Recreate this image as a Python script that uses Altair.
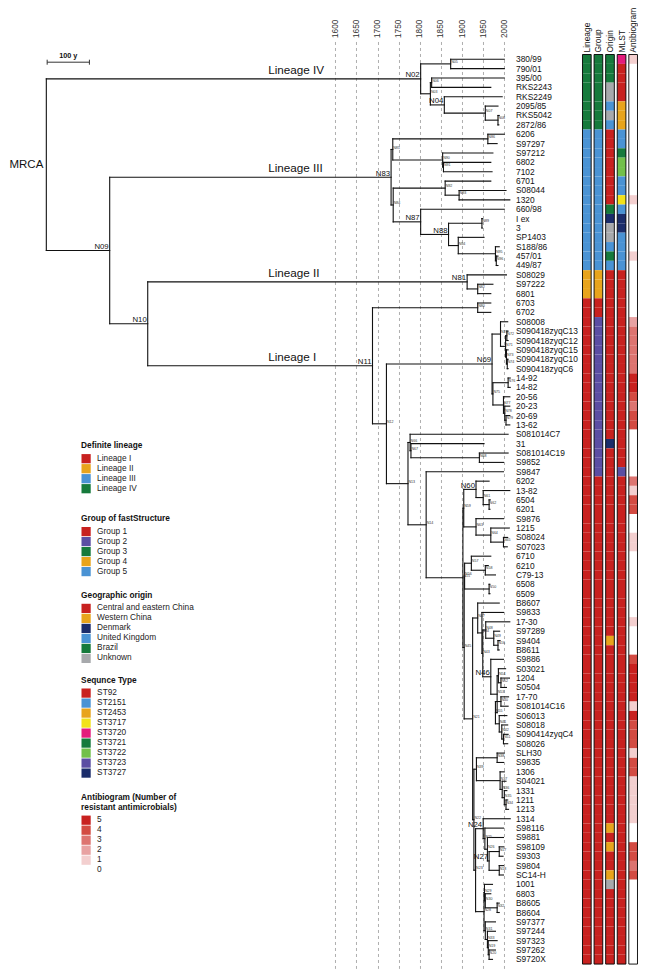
import altair as alt
import pandas as pd

FONT = "Liberation Sans"

# ---------------- tips (top to bottom) ----------------
TIPS = ["380/99", "790/01", "395/00", "RKS2243", "RKS2249", "2095/85", "RKS5042", "2872/86",
        "6206", "S97297", "S97212", "6802", "7102", "6701", "S08044", "1320", "660/98", "I ex", "3",
        "SP1403", "S188/86", "457/01", "449/87",
        "S08029", "S97222", "6801",
        "6703", "6702", "S08008", "S090418zyqC13", "S090418zyqC12", "S090418zyqC15", "S090418zyqC10",
        "S090418zyqC6", "14-92", "14-82", "20-56", "20-23", "20-69", "13-62", "S081014C7", "31",
        "S081014C19", "S9852", "S9847", "6202", "13-82", "6504", "6201", "S9876", "1215", "S08024",
        "S07023", "6710", "6210", "C79-13", "6508", "6509", "B8607", "S9833", "17-30", "S97289",
        "S9404", "B8611", "S9886", "S03021", "1204", "S0504", "17-70", "S081014C16", "S06013",
        "S08018", "S090414zyqC4", "S08026", "SLH30", "S9835", "1306", "S04021", "1331", "1211",
        "1213", "1314", "S98116", "S9881", "S98109", "S9303", "S9804", "SC14-H", "1001", "6803",
        "B8605", "B8604", "S97377", "S97244", "S97323", "S97262", "S9720X"]

TIP_PARENT = ["N05", "N05", "N06", "N06", "N04", "N07", "N08", "N08",
              "N86", "N86", "N90", "N91", "N91", "N92", "N93", "N93", "N87", "N89", "N89",
              "N94", "N95", "N96", "N96",
              "N81", "N82", "N82",
              "N80", "N80", "N70", "N72", "N72", "N73", "N74",
              "N74", "N76", "N76", "N77", "N78", "N79", "N79", "N66", "N67",
              "N68", "N68", "N14", "N60", "N61", "N62", "N62", "N63", "N64", "N65",
              "N65", "N57", "N58", "N58", "N50", "N50", "N47", "N44", "N48", "N49",
              "N16", "N16", "N46", "N54", "N52", "N52", "N40", "N40", "N41",
              "N42", "N51", "N51", "N38", "N38", "N37", "N36", "N35", "N34",
              "N34", "N24", "N25", "N26", "N17", "N17", "N18", "N18", "N29", "N30",
              "N32", "N32", "N31", "N33", "N19", "N20", "N20"]

TIP_YEAR = [2000, 2000, 2000, 1968, 1995, 1985, 1988, 1987,
            2000, 1983, 1973, 1968, 1971, 1968, 2004, 2013, 2000, 1948, 1948,
            1952, 1988, 1985, 1985,
            2005, 1973, 1968,
            1968, 1968, 2008, 2009, 2009, 2009, 2009,
            2009, 2014, 2014, 2013, 2013, 2013, 2013, 2009, 1952,
            2009, 1998, 1998, 1964, 2013, 1967, 1966, 1998, 2012, 2008,
            2007, 1968, 1962, 1979, 1966, 1966, 1988, 1998, 2013, 1989,
            1990, 1988, 1998, 2003, 2012, 2005, 2010, 2009, 2006,
            2008, 2009, 2008, 2000, 1998, 2000, 2004, 2006, 2008,
            2010, 2014, 1998, 1998, 1998, 1997, 1998, 1998, 1972, 1968,
            1988, 1988, 1979, 1979, 1983, 1979, 1972]

# ---------------- internal nodes ----------------
NODES = ["MRCA", "N02", "N03", "N05", "N06", "N04", "N07", "N08",
         "N09", "N83", "N85", "N86", "N90", "N91", "N84", "N92", "N93", "N87", "N88", "N89",
         "N94", "N95", "N96",
         "N10", "N81", "N82",
         "N11", "N80", "N12", "N69", "N70", "N71", "N72", "N73", "N74", "N75", "N76", "N77",
         "N78", "N79", "N13", "N66", "N67", "N68", "N14", "N15", "N59", "N60", "N61", "N62",
         "N63", "N64", "N65", "N45", "N56", "N57", "N58", "N50", "N21", "N47", "N44", "N43",
         "N48", "N49", "N16", "N46", "N53", "N54", "N52", "N55", "N40", "N41", "N42", "N51",
         "N22", "N39", "N38", "N37", "N36", "N35", "N34", "N23", "N24", "N25", "N26", "N27",
         "N17", "N18", "N28", "N29", "N30", "N32", "N31", "N33", "N19", "N20"]

NODE_PARENT = ["", "MRCA", "N02", "N02", "N03", "N03", "N04", "N07",
               "MRCA", "N09", "N83", "N85", "N85", "N90", "N83", "N84", "N92", "N84", "N87", "N88",
               "N88", "N94", "N95",
               "N09", "N10", "N81",
               "N10", "N11", "N11", "N12", "N69", "N70", "N71", "N71", "N73", "N69", "N75", "N75",
               "N77", "N78", "N12", "N13", "N66", "N67", "N13", "N14", "N15", "N59", "N60", "N61",
               "N59", "N63", "N64", "N15", "N45", "N56", "N57", "N56", "N45", "N21", "N47", "N44",
               "N43", "N48", "N49", "N43", "N46", "N53", "N54", "N53", "N55", "N55", "N41", "N42",
               "N21", "N22", "N39", "N39", "N37", "N36", "N35", "N22", "N23", "N24", "N25", "N26",
               "N27", "N27", "N23", "N28", "N29", "N30", "N28", "N31", "N33", "N19"]

NODE_YEAR = [916, 1802, 1825, 1873, 1828, 1858, 1955, 1985,
             1066, 1732, 1736, 1961, 1854, 1856, 1737, 1860, 1893, 1802, 1868, 1947,
             1891, 1979, 1981,
             1156, 1912, 1937,
             1688, 1937, 1721, 1971, 1991, 2003, 2006, 2005, 2007, 1973, 2009, 1998,
             2001, 2004, 1772, 1777, 1779, 1941, 1815, 1902, 1904, 1933, 1950, 1964,
             1933, 1968, 1998, 1905, 1906, 1922, 1955, 1964, 1925, 1937, 1947, 1949,
             1956, 1975, 1985, 1968, 1983, 1986, 1992, 1979, 1992, 1988, 1994, 1998,
             1928, 1934, 1983, 1990, 1995, 2000, 2004, 1932, 1950, 1954, 1960, 1964,
             1988, 1988, 1952, 1953, 1955, 1983, 1955, 1960, 1962, 1964]

BIG_NODE_LABELS = ["N02", "N04", "N09", "N10", "N11", "N24", "N27", "N46", "N60",
                   "N69", "N81", "N83", "N87", "N88"]

LINEAGE_LABELS = ["Lineage IV", "Lineage III", "Lineage II", "Lineage I"]
LINEAGE_LABEL_NODES = ["N02", "N83", "N81", "N11"]
LINEAGE_LABEL_YEAR = 1441

YEAR_TICKS = [1600, 1650, 1700, 1750, 1800, 1850, 1900, 1950, 2000]
SCALEBAR_START = 918
SCALEBAR_LEN = 100
SCALEBAR_TEXT = "100 y"

# ---------------- annotation columns ----------------
COLUMN_NAMES = ["Lineage", "Group", "Origin", "MLST", "Antibiogram"]

LINEAGE_CATS = ["Lineage I", "Lineage II", "Lineage III", "Lineage IV"]
GROUP_CATS = ["Group 1", "Group 2", "Group 3", "Group 4", "Group 5"]
ORIGIN_CATS = ["Central and eastern China", "Western China", "Denmark", "United Kingdom",
               "Brazil", "Unknown"]
ST_CATS = ["ST92", "ST2151", "ST2453", "ST3717", "ST3720", "ST3721", "ST3722", "ST3723", "ST3727"]
AB_CATS = ["5", "4", "3", "2", "1", "0"]

RED, ORANGE, BLUE, GREEN = "#c8211f", "#e8a41c", "#4a93d4", "#167a3c"
PURPLE, NAVY, GREY = "#5b4ea3", "#1b2d6b", "#a7a9ac"
YELLOW, MAGENTA, LGREEN = "#f2e21a", "#e41c7c", "#72c04a"

LINEAGE_COLORS = [RED, ORANGE, BLUE, GREEN]
GROUP_COLORS = [RED, PURPLE, GREEN, ORANGE, BLUE]
ORIGIN_COLORS = [RED, ORANGE, NAVY, BLUE, GREEN, GREY]
ST_COLORS = [RED, BLUE, ORANGE, YELLOW, MAGENTA, GREEN, LGREEN, PURPLE, NAVY]
AB_COLORS = ["#c8211f", "#d34b42", "#dd7470", "#e8a2a2", "#f3cfcf", "#ffffff"]

# one character per tip, top to bottom
LINEAGE_CODE = ("44444444 3333333333 33333 222 11 1111111111 1111111 "
                "1111111111 1111111111 1111111111 1111111111 1111111111 11")
GROUP_CODE = ("33333333 5555555555 55555 444 11 2222222222 2222222 "
              "1111111111 1111111111 1111111111 1111111111 1111111111 11")
ORIGIN_CODE = ("BBB XX U X U CCCCCCCC B D XX U B U CCCCCCCCCC CCCCCCCC D "
               "CCCCCCCCCC CCCCCCCCCC W CCCCCCCCCC CCCCCCCCC W C W CC W X CCCCCCCC")
ST_CODE = ("4 0000 222 11 5 66 11 3 1 88 1111 0000000000 0000000000 0 7 "
           "0000000000 0000000000 0000000000 0000000000 0000000000 00")
AB_CODE = ("1 00000000000000 1 00000 1 000000 2 33333 55 4 3 44 00000 3 1 44 00 11 "
           "0000000 1 000 4 5555 1 5 444 1 44 11111 00 44 3 4 000000000")

ORIGIN_KEY = {"C": ORIGIN_CATS[0], "W": ORIGIN_CATS[1], "D": ORIGIN_CATS[2],
              "U": ORIGIN_CATS[3], "B": ORIGIN_CATS[4], "X": ORIGIN_CATS[5]}

# ---------------- build tables ----------------
lin_codes = LINEAGE_CODE.replace(" ", "")
grp_codes = GROUP_CODE.replace(" ", "")
org_codes = ORIGIN_CODE.replace(" ", "")
st_codes = ST_CODE.replace(" ", "")
ab_codes = AB_CODE.replace(" ", "")
n_tips = len(TIPS)
assert all(len(s) == n_tips for s in [lin_codes, grp_codes, org_codes, st_codes, ab_codes,
                                      TIP_PARENT, TIP_YEAR])

parent, year = {}, {}
for n, p, y in zip(NODES, NODE_PARENT, NODE_YEAR):
    parent[n], year[n] = p, y
for n, p, y in zip(TIPS, TIP_PARENT, TIP_YEAR):
    parent[n], year[n] = p, y
children = {}
for n, p in parent.items():
    if p:
        children.setdefault(p, []).append(n)

row = {t: i for i, t in enumerate(TIPS)}


def get_row(n):
    if n not in row:
        rs = [get_row(c) for c in children[n]]
        row[n] = (min(rs) + max(rs)) / 2
    return row[n]


get_row("MRCA")

segs = []
for n, p in parent.items():
    if p:
        segs.append({"x": year[p], "x2": year[n], "y": row[n], "y2": row[n]})
for n, ch in children.items():
    rs = [row[c] for c in ch]
    segs.append({"x": year[n], "x2": year[n], "y": min(rs), "y2": max(rs)})
seg_df = pd.DataFrame(segs)

big_df = pd.DataFrame({"name": BIG_NODE_LABELS,
                       "x": [year[n] for n in BIG_NODE_LABELS],
                       "y": [row[n] for n in BIG_NODE_LABELS]})
small_names = [n for n in NODES if n not in BIG_NODE_LABELS and n != "MRCA"]
small_df = pd.DataFrame({"name": small_names,
                         "x": [year[n] for n in small_names],
                         "y": [row[n] for n in small_names]})
root_df = pd.DataFrame({"name": ["MRCA"], "x": [year["MRCA"]], "y": [row["MRCA"]]})
lin_df = pd.DataFrame({"name": LINEAGE_LABELS, "x": [LINEAGE_LABEL_YEAR] * 4,
                       "y": [row[n] for n in LINEAGE_LABEL_NODES]})
tips_df = pd.DataFrame({"name": TIPS, "y": list(range(n_tips))})

heat_rows = []
for i in range(n_tips):
    vals = [LINEAGE_CATS[int(lin_codes[i]) - 1], GROUP_CATS[int(grp_codes[i]) - 1],
            ORIGIN_KEY[org_codes[i]], ST_CATS[int(st_codes[i])], ab_codes[i]]
    for c, v in zip(COLUMN_NAMES, vals):
        heat_rows.append({"col": c, "value": v, "r0": i - 0.5, "r1": i + 0.5})
heat_df = pd.DataFrame(heat_rows)
border_df = pd.DataFrame({"col": COLUMN_NAMES, "r0": [-0.5] * 5, "r1": [n_tips - 0.5] * 5})

sb_df = pd.DataFrame({"x": [SCALEBAR_START], "x2": [SCALEBAR_START + SCALEBAR_LEN],
                      "xm": [SCALEBAR_START + SCALEBAR_LEN / 2], "t": [SCALEBAR_TEXT]})
sb_ends = pd.DataFrame({"x": [SCALEBAR_START, SCALEBAR_START + SCALEBAR_LEN]})

# ---------------- scales & axes ----------------
W, H = 630, 926.9
XS = alt.Scale(domain=[825.3, 2316.4], nice=False, zero=False)
YS = alt.Scale(domain=[-1.888, 96.96], nice=False, zero=False, reverse=True)
year_axis = alt.Axis(orient="top", values=YEAR_TICKS, format="d", grid=True, gridDash=[3, 3],
                     gridColor="#9a9a9a", gridWidth=0.8, domain=False, ticks=False,
                     labelAngle=270, labelAlign="left", labelBaseline="middle", labelPadding=4,
                     labelFontSize=8.3, labelFontWeight="normal", labelColor="#333",
                     labelFont=FONT, title=None)
HX = alt.Scale(domain=COLUMN_NAMES, range=[574.5, 629.5], paddingInner=0.25, paddingOuter=0)
heat_axis = alt.Axis(orient="top", domain=False, ticks=False, grid=False, labelAngle=270,
                     labelAlign="left", labelBaseline="middle", labelPadding=-10.5,
                     labelFontSize=8.4, labelFontWeight="normal", labelColor="#111",
                     labelFont=FONT, title=None)

XQ = alt.X("x:Q", scale=XS, axis=None)
YQ = alt.Y("y:Q", scale=YS, axis=None)
HXQ = alt.X("col:N", scale=HX, axis=heat_axis)

tree = alt.Chart(seg_df).mark_rule(color="#111", strokeWidth=1.1, strokeCap="square").encode(
    x=alt.X("x:Q", scale=XS, axis=year_axis), x2="x2:Q", y=YQ, y2="y2:Q")

tip_text = alt.Chart(tips_df).mark_text(align="left", baseline="middle", fontSize=8.4,
                                        font=FONT, color="#111").encode(
    x=alt.value(508), y=YQ, text="name:N")

big_text = alt.Chart(big_df).mark_text(align="right", baseline="alphabetic", dx=-1, dy=-1.5,
                                       fontSize=7.8, font=FONT, color="#111").encode(
    x=XQ, y=YQ, text="name:N")

small_text = alt.Chart(small_df).mark_text(align="left", baseline="alphabetic", dx=0.5, dy=-0.8,
                                           fontSize=3.6, font=FONT, color="#333").encode(
    x=XQ, y=YQ, text="name:N")

root_text = alt.Chart(root_df).mark_text(align="right", baseline="middle", dx=-3,
                                         fontSize=11.5, font=FONT, color="#111").encode(
    x=XQ, y=YQ, text="name:N")

lin_text = alt.Chart(lin_df).mark_text(align="left", baseline="alphabetic", dy=-5,
                                       fontSize=11.7, font=FONT, color="#111").encode(
    x=XQ, y=YQ, text="name:N")

sb_rule = alt.Chart(sb_df).mark_rule(color="#333", strokeWidth=1).encode(
    x=XQ, x2="x2:Q", y=alt.value(20.7))
sb_ticks = alt.Chart(sb_ends).mark_rule(color="#333", strokeWidth=1).encode(
    x=XQ, y=alt.value(18.2), y2=alt.value(23.2))
sb_text = alt.Chart(sb_df).mark_text(baseline="alphabetic", fontSize=7.3, fontWeight="bold",
                                     font=FONT, color="#111").encode(
    x=alt.X("xm:Q", scale=XS, axis=None), y=alt.value(16.8), text="t:N")


def legend(title, ly):
    return alt.Legend(title=title, orient="none", legendX=73.1, legendY=ly, direction="vertical",
                      symbolType="square", symbolSize=85, symbolStrokeWidth=0, symbolOpacity=1,
                      rowPadding=0, labelOffset=6, labelFontSize=8.3, labelFont=FONT,
                      labelColor="#222", titleFontSize=8.3, titleFont=FONT, titleFontWeight="bold",
                      titleColor="#111", titlePadding=4, titleLimit=400, labelLimit=400)


def heat_layer(colname, cats, colors, title, ly):
    return alt.Chart(heat_df).transform_filter(alt.datum.col == colname).mark_rect().encode(
        x=HXQ,
        y=alt.Y("r0:Q", scale=YS, axis=None), y2="r1:Q",
        color=alt.Color("value:N", scale=alt.Scale(domain=cats, range=colors),
                        legend=legend(title, ly)))


heat_layers = [
    heat_layer("Lineage", LINEAGE_CATS, LINEAGE_COLORS, "Definite lineage", 399.9),
    heat_layer("Group", GROUP_CATS, GROUP_COLORS, "Group of fastStructure", 472.8),
    heat_layer("Origin", ORIGIN_CATS, ORIGIN_COLORS, "Geographic origin", 549.6),
    heat_layer("MLST", ST_CATS, ST_COLORS, "Sequnce Type", 634.3),
    heat_layer("Antibiogram", AB_CATS, AB_COLORS,
               ["Antibiogram (Number of", "resistant antimicrobials)"], 751.1),
]
border = alt.Chart(border_df).mark_rect(filled=False, stroke="#000", strokeWidth=0.9).encode(
    x=HXQ,
    y=alt.Y("r0:Q", scale=YS, axis=None), y2="r1:Q")

heat = alt.layer(*heat_layers, border).resolve_scale(color="independent")

chart = alt.layer(tree, tip_text, big_text, small_text, root_text, lin_text,
                  sb_rule, sb_ticks, sb_text, heat).resolve_scale(x="independent").properties(
    width=W, height=H,
    autosize=alt.AutoSizeParams(type="none"),
    padding={"left": 0, "top": 33.5, "right": 0, "bottom": 2},
    background="white",
).configure(font=FONT).configure_view(strokeWidth=0)

chart.save("out.html", embed_options={"renderer": "svg", "actions": False})
